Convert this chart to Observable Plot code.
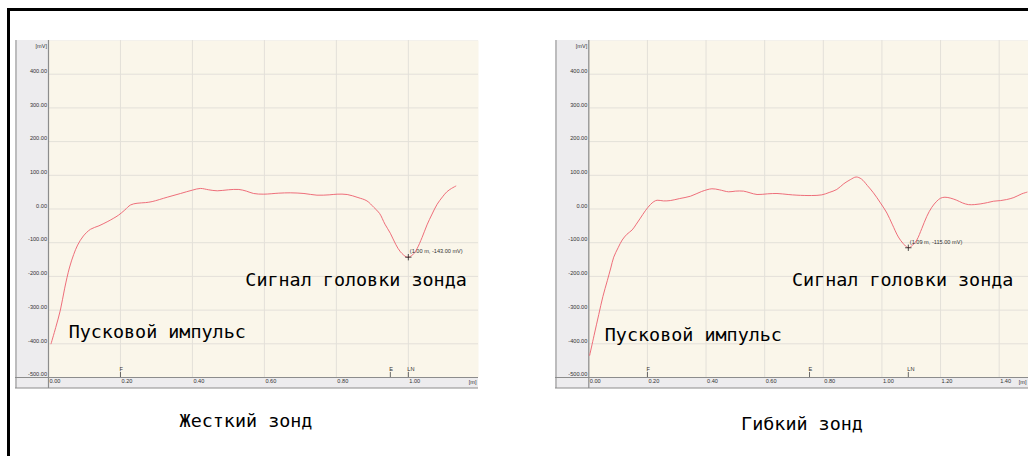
<!DOCTYPE html>
<html>
<head>
<meta charset="utf-8">
<script src="https://cdn.jsdelivr.net/npm/d3@7"></script>
<script src="https://cdn.jsdelivr.net/npm/@observablehq/plot@0.6"></script>
<style>
  html, body { margin: 0; padding: 0; background: #fff; }
  #page { position: relative; width: 1028px; height: 456px; overflow: hidden; background: #fff; }
  #frame { position: absolute; left: 7px; top: 8px; width: 1100px; height: 500px;
           border-top: 3px solid #000; border-left: 3px solid #000; }
  .panel { position: absolute; top: 40px; }
  .title { position: absolute; font-family: "DejaVu Sans Mono", monospace; font-size: 18.4px;
           color: #000; transform: translate(-50%, -50%); white-space: pre; }
</style>
</head>
<body>
<div id="page">
  <div id="frame"></div>
  <div id="left" class="panel" style="left:15px"></div>
  <div id="right" class="panel" style="left:555px"></div>
  <div class="title" style="left:246px; top:420px">Жесткий зонд</div>
  <div class="title" style="left:802px; top:423px">Гибкий зонд</div>
</div>
<script>
// ---- data: rigid probe (Жесткий зонд) ----
const rigidX = [0.007,0.020,0.033,0.045,0.058,0.070,0.081,0.097,0.117,0.140,0.163,0.180,0.195,0.212,0.228,0.246,0.270,0.288,0.330,0.367,0.400,0.422,0.445,0.469,0.500,0.529,0.550,0.570,0.598,0.640,0.672,0.710,0.746,0.780,0.802,0.830,0.860,0.885,0.904,0.920,0.935,0.950,0.965,0.978,0.994,1.000,1.012,1.024,1.038,1.052,1.066,1.080,1.095,1.107,1.120,1.132];
const rigidY = [-400,-352,-300,-235,-175,-135,-107,-80,-60,-50,-38,-28,-18,-3,12,17,19,22,35,46,56,61,57,54,57,58,53,46,44,47,48,46,41,42,44,43,34,24,5,-13,-45,-72,-105,-127,-142,-143,-136,-118,-85,-47,-15,14,36,51,61,68];
const rigidMarkerLabels = ["F", "E", "LN"];
const rigidMarkerX = [0.20, 0.95, 1.00];
const rigidPeak = {x: 1.00, y: -143};

// ---- data: flexible probe (Гибкий зонд) ----
const flexX = [0.003,0.018,0.034,0.048,0.063,0.075,0.085,0.100,0.114,0.130,0.148,0.162,0.176,0.193,0.210,0.222,0.233,0.255,0.278,0.310,0.347,0.385,0.420,0.445,0.477,0.500,0.528,0.550,0.574,0.610,0.642,0.680,0.710,0.760,0.795,0.820,0.846,0.870,0.892,0.912,0.930,0.950,0.971,0.995,1.017,1.035,1.056,1.072,1.090,1.105,1.119,1.136,1.153,1.170,1.187,1.200,1.215,1.235,1.255,1.275,1.295,1.315,1.335,1.360,1.380,1.405,1.425,1.450,1.477,1.495];
const flexY = [-434,-375,-313,-260,-213,-175,-143,-115,-92,-75,-62,-45,-27,-5,13,22,26,24,25,31,38,52,60,57,51,53,53,48,43,45,46,43,41,40,42,49,58,75,87,95,89,70,48,18,-12,-45,-83,-102,-115,-107,-92,-58,-22,5,23,32,35,32,26,18,13,13,15,19,23,25,28,34,45,50];
const flexMarkerLabels = ["F", "E", "LN"];
const flexMarkerX = [0.20, 0.753, 1.09];
const flexPeak = {x: 1.09, y: -115};

// ---- tick values and texts ----
const yTicks = [-500,-400,-300,-200,-100,0,100,200,300,400];
const rigidXTicks = [0,0.2,0.4,0.6,0.8,1.0];
const flexXTicks = [0,0.2,0.4,0.6,0.8,1.0,1.2,1.4];
const yUnit = "[mV]";
const xUnit = "[m]";
const signalText = "Сигнал головки зонда";
const pulseText = "Пусковой импульс";

const SMALL = 5.6;
const fmt = d => d.toFixed(2);

function panel(opts) {
  const data = opts.xs.map((x, i) => ({x, y: opts.ys[i]}));
  const markers = opts.markerX.map((x, i) => ({x, label: opts.markerLabels[i]}));
  const notes = [
    {x: opts.signalAt[0], y: opts.signalAt[1], text: signalText},
    {x: opts.pulseAt[0], y: opts.pulseAt[1], text: pulseText}
  ];
  const lineCol = "#8c8c8c";
  return Plot.plot({
    width: opts.width,
    height: 348,
    marginLeft: opts.marginLeft,
    marginRight: 0,
    marginTop: 0,
    marginBottom: 11,
    x: {domain: [0, opts.xMax]},
    y: {domain: [-500, 500]},
    style: {background: "#EDECEE", fontFamily: "'Liberation Sans', Arial, sans-serif", overflow: "visible"},
    marks: [
      Plot.frame({fill: "#FAF6EA", stroke: null}),
      Plot.gridX(opts.xTicks, {stroke: "#E3E0D9", strokeOpacity: 1}),
      Plot.gridY(yTicks, {stroke: "#E3E0D9", strokeOpacity: 1}),
      Plot.axisY(yTicks, {tickSize: 0, tickPadding: 1.5, fontSize: SMALL, tickFormat: fmt, fill: "#333", dy: -3, label: null}),
      Plot.axisX(opts.xTicks, {tickSize: 0, tickPadding: 2, fontSize: SMALL, tickFormat: fmt, textAnchor: "start", dx: 1, fill: "#333", label: null}),
      Plot.text([yUnit], {frameAnchor: "top-left", text: d => d, textAnchor: "end", dx: -1.5, dy: 4, fontSize: SMALL, fill: "#333"}),
      Plot.text([xUnit], {frameAnchor: "bottom-right", text: d => d, textAnchor: "end", dx: -2, dy: 6, fontSize: SMALL, fill: "#333"}),
      // chrome lines
      Plot.ruleX([0], {stroke: lineCol, strokeWidth: 1.2, insetBottom: -11}),
      Plot.ruleY([-500], {stroke: lineCol, insetLeft: -opts.marginLeft}),
      Plot.ruleY([-500], {stroke: lineCol, insetLeft: -opts.marginLeft, dy: 10.5}),
      Plot.ruleX([0], {stroke: lineCol, dx: -opts.marginLeft + 0.5, insetBottom: -11}),
      // markers F / E / LN
      Plot.ruleX(markers, {x: "x", y1: -500, y2: -485, stroke: "#444", strokeWidth: 0.8}),
      Plot.text(markers, {x: "x", y: -500, text: "label", dy: -8, textAnchor: "start", dx: -1, fontSize: SMALL, fill: "#333"}),
      // signal curve
      Plot.line(data, {x: "x", y: "y", stroke: "#EC5F6D", strokeWidth: 0.9, curve: "catmull-rom"}),
      // minimum annotation
      Plot.dot([opts.peak], {x: "x", y: "y", symbol: "plus", r: 2.2, stroke: "#222", strokeWidth: 0.8}),
      Plot.text([opts.peak], {x: "x", y: "y", text: d => `(${d.x.toFixed(2)} m, ${d.y.toFixed(2)} mV)`,
        textAnchor: "start", dx: 1.5, dy: -5.5, fontSize: SMALL, fill: "#333"}),
      // big labels
      Plot.text(notes, {x: "x", y: "y", text: "text", textAnchor: "start", fontFamily: "DejaVu Sans Mono", fontSize: 18.4, fill: "#000"})
    ]
  });
}

document.getElementById("left").append(panel({
  xs: rigidX, ys: rigidY, width: 463, marginLeft: 33, xMax: 1.195, xTicks: rigidXTicks,
  markerX: rigidMarkerX, markerLabels: rigidMarkerLabels, peak: rigidPeak,
  signalAt: [0.547, -211], pulseAt: [0.056, -364]
}));
document.getElementById("right").append(panel({
  xs: flexX, ys: flexY, width: 473, marginLeft: 33.3, xMax: 1.5, xTicks: flexXTicks,
  markerX: flexMarkerX, markerLabels: flexMarkerLabels, peak: flexPeak,
  signalAt: [0.693, -212], pulseAt: [0.0545, -375]
}));
</script>
</body>
</html>
